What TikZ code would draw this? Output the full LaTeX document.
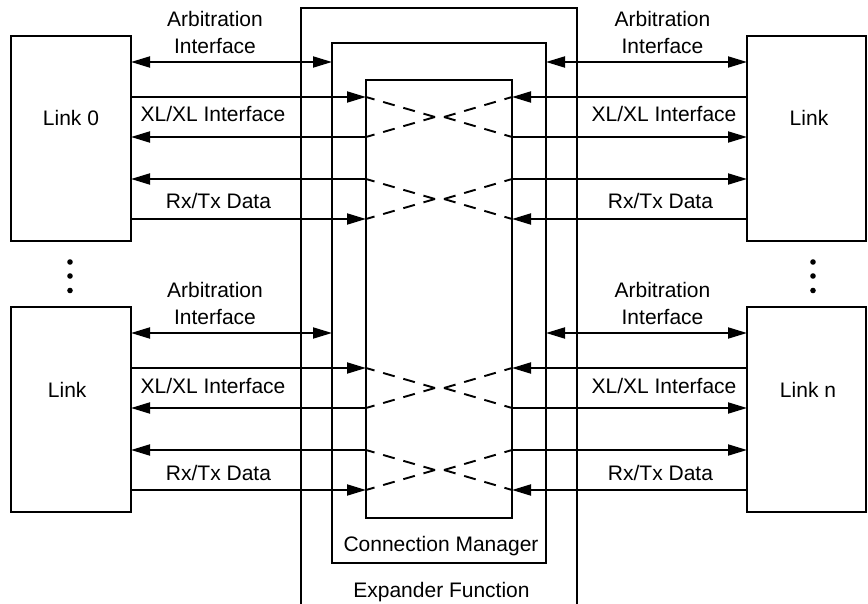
\documentclass[tikz,border=0pt]{standalone}
\usepackage{fontspec}
\setmainfont{Liberation Sans}
\usetikzlibrary{arrows.meta}

\tikzset{
  box/.style={draw, rectangle, inner sep=0pt, outer sep=0pt},
  lbl/.style={inner sep=0pt, anchor=base, font=\fontsize{21}{27}\selectfont},
  lbl2/.style={inner sep=0pt, align=center, font=\fontsize{21}{27}\selectfont},
  arr/.style={-{Triangle[length=19pt,width=11pt]}},
  darr/.style={{Triangle[length=19pt,width=11pt]}-{Triangle[length=19pt,width=11pt]}},
  xdash/.style={dash pattern=on 12pt off 9pt},
  vdot/.style={circle, fill, inner sep=0pt, minimum size=5.6pt},
}

\begin{document}
\begin{tikzpicture}[x=1pt, y=-1pt, line width=1.9pt]
\useasboundingbox (0,0) rectangle (868,604);

% Expander Function (open at the bottom)
\coordinate (efbl) at (301,608);
\coordinate (eftr) at (577,8);
\draw (efbl) |- (eftr) -- (eftr |- efbl);

% Connection Manager and crossbar
\node[box, minimum width=214pt, minimum height=520pt] (mgr) at (439,303) {};
\node[box, minimum width=146pt, minimum height=438pt] (xb) at (439,299) {};

% Link blocks
\node[box, minimum width=120pt, minimum height=205pt] (lnkA) at (71,138.5) {};
\node[box, minimum width=120pt, minimum height=205pt] (lnkB) at (71,409.5) {};
\node[box, minimum width=119pt, minimum height=205pt] (rnkA) at (806.5,138.5) {};
\node[box, minimum width=119pt, minimum height=205pt] (rnkB) at (806.5,409.5) {};

\node[lbl] (tA) at (71,126) {Link 0};
\node[lbl] (tB) at (67.2,397) {Link};
\node[lbl] (uA) at (809,126) {Link};
\node[lbl] (uB) at (808,397) {Link n};

\node[lbl] (cm) at (441,551) {Connection Manager};
\node[lbl] (ef) at (441.5,597) {Expander Function};

% ellipsis dots between link blocks
\node[vdot] (ld1) at (70,262) {};
\node[vdot] (ld2) at (70,276) {};
\node[vdot] (ld3) at (70,290.5) {};
\node[vdot] (rd1) at (813,262) {};
\node[vdot] (rd2) at (813,276) {};
\node[vdot] (rd3) at (813,290.5) {};

% signal groups, upper and lower
\foreach \l/\r/\o in {lnkA/rnkA/0, lnkB/rnkB/271} {
  \coordinate (r1) at (0,62+\o);
  \coordinate (r2) at (0,97+\o);
  \coordinate (r3) at (0,137+\o);
  \coordinate (r4) at (0,179+\o);
  \coordinate (r5) at (0,219+\o);
  \coordinate (tl1) at (435,117+\o);
  \coordinate (tr1) at (444,117+\o);
  \coordinate (tl2) at (435,199+\o);
  \coordinate (tr2) at (444,199+\o);

  % arbitration
  \draw[darr] (\l.east |- r1) -- (mgr.west |- r1);
  \draw[darr] (mgr.east |- r1) -- (\r.west |- r1);
  % XL/XL interface
  \draw[arr] (\l.east |- r2) -- (xb.west |- r2);
  \draw[arr] (xb.west |- r3) -- (\l.east |- r3);
  \draw[arr] (\r.west |- r2) -- (xb.east |- r2);
  \draw[arr] (xb.east |- r3) -- (\r.west |- r3);
  % Rx/Tx data
  \draw[arr] (xb.west |- r4) -- (\l.east |- r4);
  \draw[arr] (\l.east |- r5) -- (xb.west |- r5);
  \draw[arr] (xb.east |- r4) -- (\r.west |- r4);
  \draw[arr] (\r.west |- r5) -- (xb.east |- r5);

  % crossbar paths
  \draw[xdash] (tl1) -- (xb.west |- r2);
  \draw[xdash] (tl1) -- (xb.west |- r3);
  \draw[xdash] (tr1) -- (xb.east |- r2);
  \draw[xdash] (tr1) -- (xb.east |- r3);
  \draw[xdash] (tl2) -- (xb.west |- r4);
  \draw[xdash] (tl2) -- (xb.west |- r5);
  \draw[xdash] (tr2) -- (xb.east |- r4);
  \draw[xdash] (tr2) -- (xb.east |- r5);

  % labels
  \node[lbl2] at (215,32+\o) {Arbitration\\Interface};
  \node[lbl2] at (662.5,32+\o) {Arbitration\\Interface};
  \node[lbl] at (213,122+\o) {XL/XL Interface};
  \node[lbl] at (664,122+\o) {XL/XL Interface};
  \node[lbl] at (218.5,209+\o) {Rx/Tx Data};
  \node[lbl] at (660.5,209+\o) {Rx/Tx Data};
}
\end{tikzpicture}
\end{document}
